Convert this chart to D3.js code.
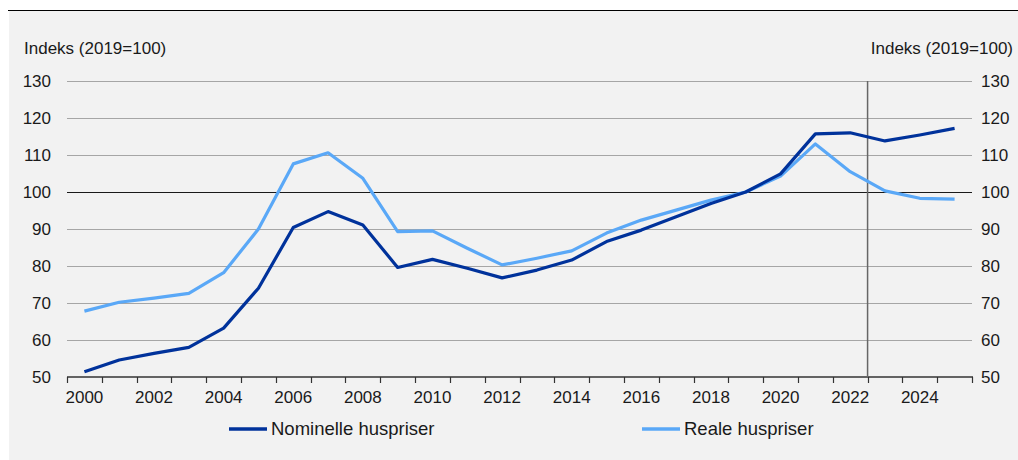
<!DOCTYPE html>
<html>
<head>
<meta charset="utf-8">
<script src="https://cdn.jsdelivr.net/npm/d3@7"></script>
<style>
  body { margin: 0; background: #ffffff; }
  svg text { font-family: "Liberation Sans", Arial, sans-serif; fill: #1a1a1a; }
</style>
</head>
<body>
<svg id="chart" width="1018" height="460"></svg>
<script>
// --- data ---
const years = d3.range(2000, 2026);
const nominelle = [51.4, 54.6, 56.4, 58.0, 63.2, 74.0, 90.4, 94.7, 91.1, 79.6,
                   81.8, 79.4, 76.8, 78.9, 81.6, 86.6, 89.7, 93.3, 96.9, 100.0,
                   104.9, 115.7, 116.0, 113.8, 115.4, 117.2];
const reale = [67.8, 70.2, 71.3, 72.6, 78.2, 90.0, 107.6, 110.6, 103.7, 89.3,
               89.5, 84.8, 80.3, 82.1, 84.1, 88.9, 92.4, 95.1, 97.8, 100.0,
               104.3, 113.0, 105.5, 100.3, 98.3, 98.1];
const yTicks = [50, 60, 70, 80, 90, 100, 110, 120, 130];
const xLabelYears = years.filter(y => y % 2 === 0);
const markerYear = 2022; // vertical line after this year
const series = [
    { name: "Nominelle huspriser", values: nominelle, color: "#00329b" },
    { name: "Reale huspriser", values: reale, color: "#5aa8f7" }
];

const svg = d3.select("#chart");
const axisFont = 17;

// background panel + top rule
svg.append("rect").attr("x", 9).attr("y", 10).attr("width", 1009).attr("height", 450).attr("fill", "#f2f2f2");
svg.append("line").attr("x1", 8).attr("x2", 1018).attr("y1", 10.5).attr("y2", 10.5)
    .attr("stroke", "#000").attr("stroke-width", 1.2);

const plotLeft = 67, plotRight = 972, plotTop = 81, plotBottom = 377;

const x = d3.scaleBand().domain(years).range([plotLeft, plotRight]);
const y = d3.scaleLinear().domain([50, 130]).range([plotBottom, plotTop]);

// gridlines
svg.append("g").selectAll("line")
    .data(yTicks.filter(v => v !== 50))
    .join("line")
    .attr("x1", plotLeft).attr("x2", plotRight)
    .attr("y1", d => Math.round(y(d)) + 0.5).attr("y2", d => Math.round(y(d)) + 0.5)
    .attr("stroke", d => d === 100 ? "#1a1a1a" : "#a6a6a6")
    .attr("stroke-width", 1);

// left/right tick labels
svg.append("g").selectAll("text")
    .data(yTicks).join("text")
    .attr("x", 51).attr("y", d => y(d)).attr("dy", "0.35em")
    .attr("text-anchor", "end").attr("font-size", axisFont)
    .text(d => d);
svg.append("g").selectAll("text")
    .data(yTicks).join("text")
    .attr("x", 981).attr("y", d => y(d)).attr("dy", "0.35em")
    .attr("text-anchor", "start").attr("font-size", axisFont)
    .text(d => d);

svg.append("text").attr("x", 24).attr("y", 54).attr("font-size", axisFont).text("Indeks (2019=100)");
svg.append("text").attr("x", 1013).attr("y", 54).attr("font-size", axisFont)
    .attr("text-anchor", "end").text("Indeks (2019=100)");

// x axis
const xAxis = d3.axisBottom(x)
    .tickValues(xLabelYears)
    .tickSize(0)
    .tickPadding(0);
const gx = svg.append("g").attr("transform", `translate(0,${plotBottom})`).call(xAxis);
gx.select(".domain").remove();
gx.selectAll("text").attr("font-size", axisFont).attr("y", 26).attr("dy", 0)
    .style("font-family", '"Liberation Sans", Arial, sans-serif').attr("fill", "#1a1a1a");

const tickPositions = years.map(d => x(d)).concat([plotRight]);
svg.append("g").selectAll("line")
    .data(tickPositions).join("line")
    .attr("x1", d => Math.round(d) + 0.5).attr("x2", d => Math.round(d) + 0.5)
    .attr("y1", plotBottom).attr("y2", plotBottom + 6)
    .attr("stroke", "#333").attr("stroke-width", 1.2);
svg.append("line").attr("x1", plotLeft).attr("x2", plotRight + 1)
    .attr("y1", plotBottom).attr("y2", plotBottom)
    .attr("stroke", "#333").attr("stroke-width", 1.6);

// vertical marker line
const vx = x(markerYear) + x.bandwidth();
svg.append("line").attr("x1", vx).attr("x2", vx).attr("y1", plotTop).attr("y2", plotBottom)
    .attr("stroke", "#666").attr("stroke-width", 1.5);

// lines
const line = d3.line()
    .x((d, i) => x(years[i]) + x.bandwidth() / 2)
    .y(d => y(d));

svg.append("g").selectAll("path")
    .data(series.slice().reverse()).join("path")
    .attr("d", d => line(d.values))
    .attr("fill", "none")
    .attr("stroke", d => d.color)
    .attr("stroke-width", 3.2)
    .attr("stroke-linejoin", "round");

// legend
const legendX = [229, 642];
const legend = svg.append("g").selectAll("g")
    .data(series).join("g")
    .attr("transform", (d, i) => `translate(${legendX[i]},429)`);
legend.append("line").attr("x1", 0).attr("x2", 38).attr("y1", 0).attr("y2", 0)
    .attr("stroke", d => d.color).attr("stroke-width", 3.5);
legend.append("text").attr("x", 42).attr("y", 0).attr("dy", "0.35em")
    .attr("font-size", 18.5).text(d => d.name);
</script>
</body>
</html>
